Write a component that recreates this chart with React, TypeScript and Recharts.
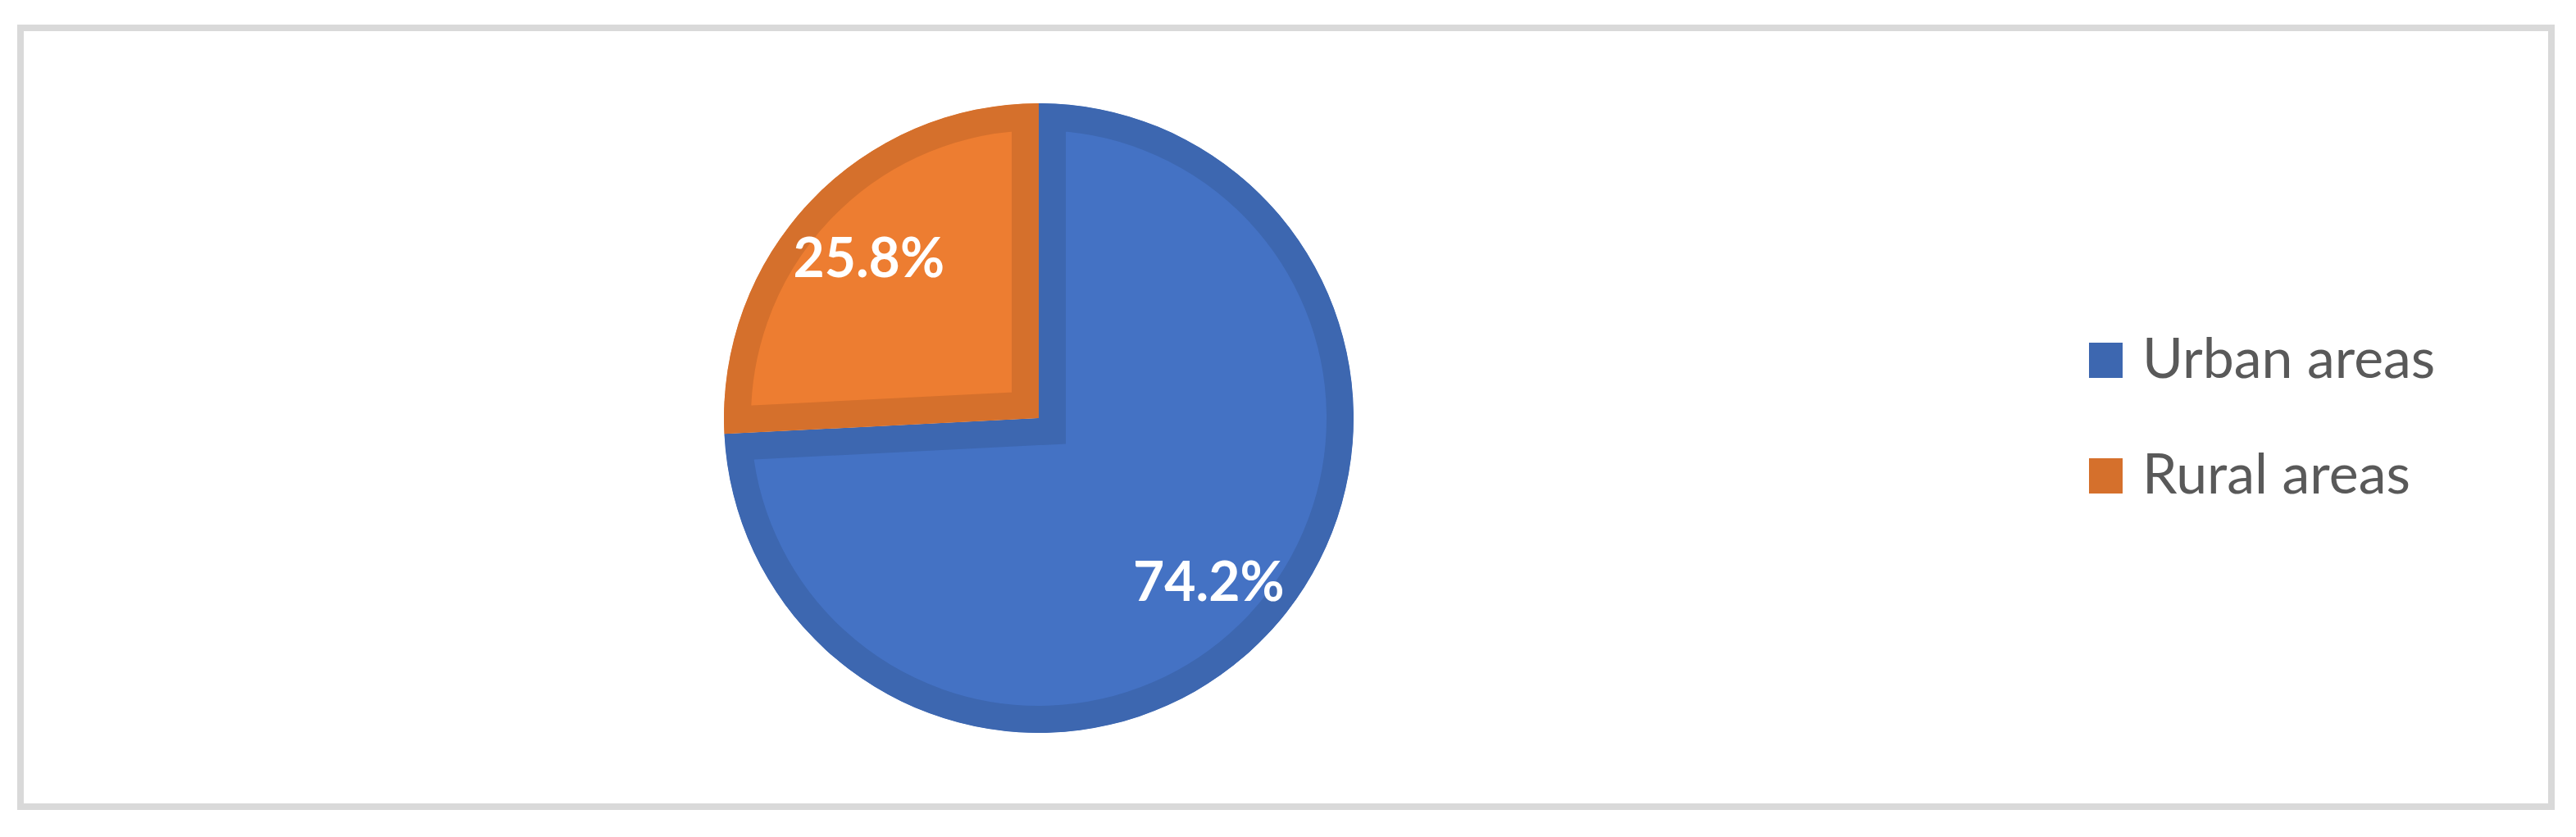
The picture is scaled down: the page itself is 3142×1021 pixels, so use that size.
import { PieChart, Pie, Cell, Legend } from "recharts";

const CATEGORIES = ["Urban areas", "Rural areas"];
const SHARES = [74.2, 25.8];
const FILLS = ["#4472C4", "#ED7D31"];
const EDGES = ["#3D67B0", "#D5702C"];

const RADIAN = Math.PI / 180;

const data = CATEGORIES.map((name, i) => ({ name, value: SHARES[i] }));

// white bold % label sitting ~3/4 of the way out along the slice's mid angle
function renderLabel(props: any) {
  const { cx, cy, midAngle, outerRadius, value } = props;
  const r = outerRadius * 0.745;
  const x = cx + r * Math.cos(-midAngle * RADIAN);
  const y = cy + r * Math.sin(-midAngle * RADIAN);
  return (
    <text
      x={x}
      y={y}
      fill="#ffffff"
      textAnchor="middle"
      dominantBaseline="central"
      fontFamily="Lato, 'Open Sans', sans-serif"
      fontWeight={700}
      fontSize={66}
    >
      {`${Number(value).toFixed(1)}%`}
    </text>
  );
}

function renderLegend(props: any) {
  // both pies report their slices; keep one entry per category, in data order
  const seen = new Set<string>();
  const items: any[] = [];
  CATEGORIES.forEach((name) => {
    const entry = (props.payload || []).find((p: any) => p.value === name);
    if (entry && !seen.has(name)) {
      seen.add(name);
      items.push(entry);
    }
  });
  return (
    <div>
      {items.map((entry: any, i: number) => (
        <div
          key={entry.value}
          style={{
            display: "flex",
            alignItems: "center",
            height: 42,
            marginBottom: i === items.length - 1 ? 0 : 99,
          }}
        >
          <span
            style={{
              display: "inline-block",
              width: 41,
              height: 43,
              background: EDGES[CATEGORIES.indexOf(entry.value)],
            }}
          />
          <span
            style={{
              marginLeft: 24,
              fontFamily: "Lato, 'Open Sans', sans-serif",
              fontSize: 68,
              lineHeight: "42px",
              color: "#595959",
              whiteSpace: "nowrap",
              position: "relative",
              top: -4,
            }}
          >
            {entry.value}
          </span>
        </div>
      ))}
    </div>
  );
}

export default function App() {
  return (
    <div style={{ position: "absolute", left: 0, top: 0, width: 3142, height: 1021, background: "#fff" }}>
      {/* clip each drawn slice to its own outline so the thick edge only shows inside */}
      <svg width={0} height={0} style={{ position: "absolute" }}>
        <defs>
          {CATEGORIES.map((_, i) => (
            <clipPath id={`sector-clip-${i}`} key={i}>
              <use href={`#sector-geom-${i}`} />
            </clipPath>
          ))}
        </defs>
      </svg>
      <div
        style={{
          position: "absolute",
          left: 21,
          top: 30,
          width: 3095,
          height: 958,
          boxSizing: "border-box",
          border: "8px solid #D9D9D9",
        }}
      />
      <div style={{ position: "absolute", left: 0, top: 0 }}>
        <PieChart width={3142} height={1021} margin={{ top: 0, right: 0, bottom: 0, left: 0 }}>
          <Pie
            data={data}
            dataKey="value"
            nameKey="name"
            cx={1267}
            cy={510}
            outerRadius={384}
            startAngle={90}
            endAngle={-270}
            fill="none"
            stroke="none"
            legendType="none"
            isAnimationActive={false}
          >
            {data.map((d, i) => (
              <Cell key={d.name} id={`sector-geom-${i}`} fill="none" stroke="none" />
            ))}
          </Pie>
          <Pie
            data={data}
            dataKey="value"
            nameKey="name"
            cx={1267}
            cy={510}
            outerRadius={384}
            startAngle={90}
            endAngle={-270}
            label={renderLabel}
            labelLine={false}
            isAnimationActive={false}
          >
            {data.map((d, i) => (
              <Cell
                key={d.name}
                fill={FILLS[i]}
                stroke={EDGES[i]}
                strokeWidth={66}
                strokeLinejoin="miter"
                clipPath={`url(#sector-clip-${i})`}
              />
            ))}
          </Pie>
          <Legend
            content={renderLegend}
            wrapperStyle={{ position: "absolute", left: 2548, top: 418, width: "auto", height: "auto" }}
          />
        </PieChart>
      </div>
    </div>
  );
}
